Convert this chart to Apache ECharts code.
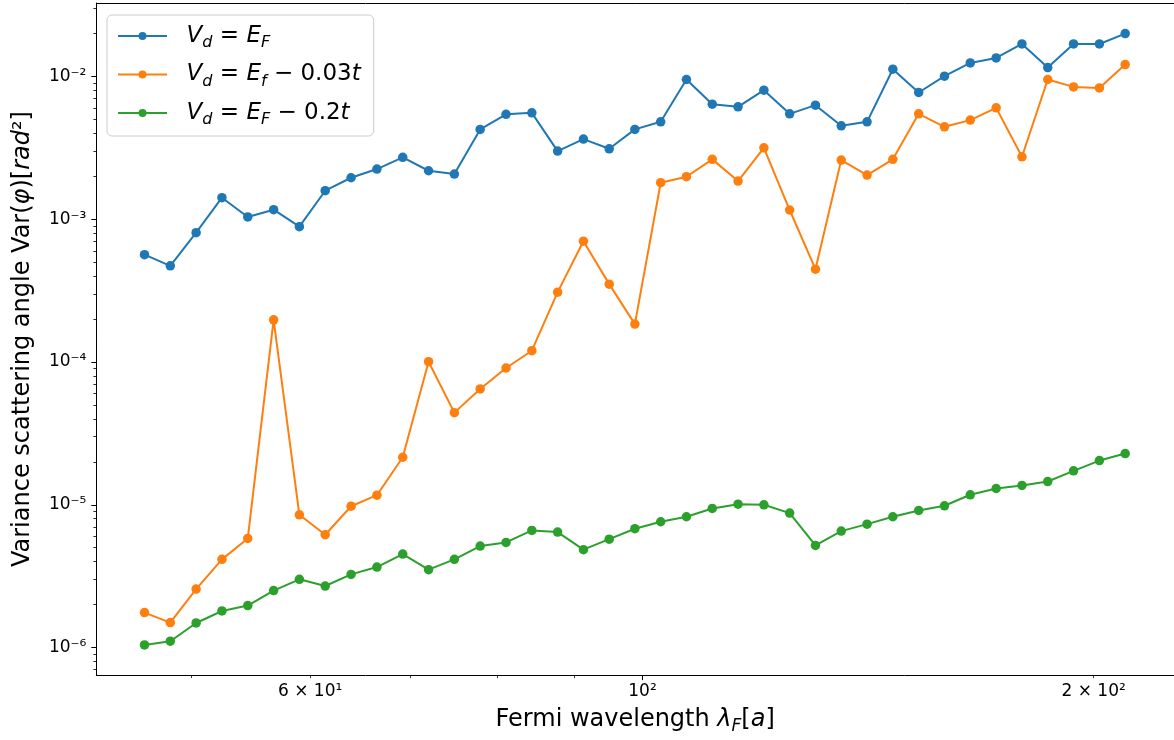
<!DOCTYPE html>
<html>
<head>
<meta charset="utf-8">
<script src="https://cdn.jsdelivr.net/npm/echarts@6/dist/echarts.min.js"></script>
<style>
    html, body { margin: 0; padding: 0; background: #fff; }
    #chart { width: 1174px; height: 740px; }
</style>
</head>
<body>
<div id="chart"></div>
<script>
// Fermi wavelength (x) and variance values
const wavelength = [46.52, 48.40, 50.36, 52.40, 54.52, 56.73, 59.02, 61.41, 63.90, 66.49,
    69.18, 71.98, 74.89, 77.92, 81.08, 84.36, 87.77, 91.32, 95.01, 98.83,
    102.83, 106.98, 111.31, 115.81, 120.50, 125.37, 130.44, 135.71, 141.20, 146.91,
    152.86, 159.04, 165.47, 172.19, 179.15, 186.39, 193.93, 201.79, 209.95];

const varEF = [5.65e-4, 4.72e-4, 8.06e-4, 1.416e-3, 1.038e-3, 1.167e-3, 8.88e-4, 1.585e-3, 1.953e-3, 2.247e-3,
    2.714e-3, 2.187e-3, 2.074e-3, 4.26e-3, 5.43e-3, 5.565e-3, 3.003e-3, 3.643e-3, 3.116e-3, 4.26e-3,
    4.815e-3, 9.53e-3, 6.40e-3, 6.13e-3, 8.02e-3, 5.476e-3, 6.30e-3, 4.514e-3, 4.815e-3, 1.125e-2,
    7.73e-3, 1.005e-2, 1.245e-2, 1.349e-2, 1.690e-2, 1.156e-2, 1.690e-2, 1.690e-2, 1.999e-2];

const varEf003 = [1.757e-6, 1.495e-6, 2.569e-6, 4.145e-6, 5.81e-6, 1.976e-4, 8.51e-6, 6.17e-6, 9.77e-6, 1.167e-5,
    2.152e-5, 1.005e-4, 4.42e-5, 6.48e-5, 9.08e-5, 1.2e-4, 3.087e-4, 7.02e-4, 3.512e-4, 1.843e-4,
    1.803e-3, 1.986e-3, 2.628e-3, 1.853e-3, 3.167e-3, 1.161e-3, 4.47e-4, 2.598e-3, 2.04e-3, 2.628e-3,
    5.476e-3, 4.443e-3, 4.949e-3, 6.03e-3, 2.740e-3, 9.53e-3, 8.46e-3, 8.32e-3, 1.213e-2];

const varEF02 = [1.043e-6, 1.107e-6, 1.486e-6, 1.803e-6, 1.967e-6, 2.504e-6, 3.004e-6, 2.697e-6, 3.254e-6, 3.661e-6,
    4.513e-6, 3.511e-6, 4.145e-6, 5.135e-6, 5.45e-6, 6.61e-6, 6.435e-6, 4.845e-6, 5.746e-6, 6.795e-6,
    7.605e-6, 8.245e-6, 9.42e-6, 1.01e-5, 1.0e-5, 8.74e-6, 5.193e-6, 6.54e-6, 7.317e-6, 8.245e-6,
    9.12e-6, 9.84e-6, 1.175e-5, 1.3e-5, 1.365e-5, 1.455e-5, 1.729e-5, 2.04e-5, 2.284e-5];

const seriesNames = ['V_d = E_F', 'V_d = E_f - 0.03t', 'V_d = E_F - 0.2t'];
const legendText = [
    '  {i|V}{s|d}{n| = }{i|E}{s|F}',
    '  {i|V}{s|d}{n| = }{i|E}{s|f}{n| − 0.03}{i|t}',
    '  {i|V}{s|d}{n| = }{i|E}{s|F}{n| − 0.2}{i|t}'
];

// axis limits and ticks (data units)
const xRange = [43.2, 226.3];
const yRange = [6.41e-7, 0.03273];
const xLabelTicks = [60, 100, 200];
const xMajorTicks = [100];
const xMinorTicks = [50, 60, 70, 80, 90, 200];
const yMajorTicks = [1e-6, 1e-5, 1e-4, 1e-3, 1e-2];
const yMinorTicks = [7e-7, 8e-7, 9e-7,
    2e-6, 3e-6, 4e-6, 5e-6, 6e-6, 7e-6, 8e-6, 9e-6,
    2e-5, 3e-5, 4e-5, 5e-5, 6e-5, 7e-5, 8e-5, 9e-5,
    2e-4, 3e-4, 4e-4, 5e-4, 6e-4, 7e-4, 8e-4, 9e-4,
    2e-3, 3e-3, 4e-3, 5e-3, 6e-3, 7e-3, 8e-3, 9e-3,
    2e-2, 3e-2];

const colors = ['#1f77b4', '#ff7f0e', '#2ca02c'];
const FONT = 'DejaVu Sans';
const lg = v => Math.log10(v);

function sup(n) {
    return String(n).replace(/[-0-9]/g, c => '⁻⁰¹²³⁴⁵⁶⁷⁸⁹'['-0123456789'.indexOf(c)]);
}

function xTickLabel(v) {
    let e = Math.floor(v + 1e-9);
    let m = Math.round(Math.pow(10, v - e));
    return (m === 1 ? '' : m + ' × ') + '10' + sup(e);
}

function mathRich(size, subSize, lineHeight) {
    return {
        n: { fontFamily: FONT, fontSize: size, color: '#000', lineHeight: lineHeight },
        i: { fontFamily: FONT, fontSize: size, color: '#000', fontStyle: 'italic', lineHeight: lineHeight },
        s: { fontFamily: FONT, fontSize: subSize, color: '#000', fontStyle: 'italic', verticalAlign: 'bottom', lineHeight: subSize + 2 }
    };
}

// the log axes carry the data; value axes in log10 units only draw spines, ticks and labels
let hiddenAxis = {
    axisLine: { show: false },
    axisTick: { show: false },
    axisLabel: { show: false },
    splitLine: { show: false }
};
let spine = { show: true, onZero: false, lineStyle: { color: '#000', width: 1 } };

let option = {
    animation: false,
    backgroundColor: '#fff',
    grid: {
        left: 96,
        right: -5,
        top: 3,
        bottom: 64,
        containLabel: false
    },
    legend: {
        orient: 'vertical',
        left: 107,
        top: 15,
        padding: [6, 13, 8, 10],
        itemGap: 8.5,
        itemWidth: 49,
        itemHeight: 10,
        backgroundColor: 'rgba(255,255,255,0.8)',
        borderColor: '#cccccc',
        borderWidth: 1,
        borderRadius: 5,
        data: seriesNames,
        formatter: name => legendText[seriesNames.indexOf(name)],
        textStyle: {
            fontFamily: FONT,
            fontSize: 23,
            lineHeight: 30,
            color: '#000',
            rich: mathRich(23, 16, 30)
        }
    },
    xAxis: [
        Object.assign({ type: 'log', logBase: 10, min: xRange[0], max: xRange[1], position: 'bottom' }, hiddenAxis),
        {
            type: 'value',
            position: 'bottom',
            min: lg(xRange[0]),
            max: lg(xRange[1]),
            axisLine: spine,
            splitLine: { show: false },
            axisTick: {
                show: true, inside: false, length: 5,
                lineStyle: { color: '#000', width: 1 },
                customValues: xMajorTicks.map(lg)
            },
            axisLabel: {
                show: true, margin: 8,
                fontFamily: FONT, fontSize: 17, color: '#000',
                customValues: xLabelTicks.map(lg),
                formatter: xTickLabel
            },
            name: 'Fermi wavelength {i|λ}{s|F}{n|[}{i|a}{n|]}',
            nameLocation: 'middle',
            nameGap: 28,
            nameTextStyle: {
                fontFamily: FONT, fontSize: 24, lineHeight: 30, color: '#000',
                rich: mathRich(24, 17, 30)
            }
        },
        {
            type: 'value',
            position: 'bottom',
            min: lg(xRange[0]),
            max: lg(xRange[1]),
            axisLine: { show: false, onZero: false },
            splitLine: { show: false },
            axisLabel: { show: false },
            axisTick: {
                show: true, inside: false, length: 3,
                lineStyle: { color: '#000', width: 0.8 },
                customValues: xMinorTicks.map(lg)
            }
        },
        Object.assign({ type: 'value', position: 'top', min: lg(xRange[0]), max: lg(xRange[1]) }, hiddenAxis, { axisLine: spine })
    ],
    yAxis: [
        Object.assign({ type: 'log', logBase: 10, min: yRange[0], max: yRange[1], position: 'left' }, hiddenAxis),
        {
            type: 'value',
            position: 'left',
            min: lg(yRange[0]),
            max: lg(yRange[1]),
            axisLine: spine,
            splitLine: { show: false },
            axisTick: {
                show: true, inside: false, length: 5,
                lineStyle: { color: '#000', width: 1 },
                customValues: yMajorTicks.map(lg)
            },
            axisLabel: {
                show: true, margin: 10,
                fontFamily: FONT, fontSize: 17, color: '#000',
                customValues: yMajorTicks.map(lg),
                formatter: v => '10' + sup(Math.round(v))
            },
            name: 'Variance scattering angle Var({i|φ}{n|)[}{i|rad}{n|²]}',
            nameLocation: 'middle',
            nameGap: 52,
            nameTextStyle: {
                fontFamily: FONT, fontSize: 24, lineHeight: 30, color: '#000',
                rich: mathRich(24, 17, 30)
            }
        },
        {
            type: 'value',
            position: 'left',
            min: lg(yRange[0]),
            max: lg(yRange[1]),
            axisLine: { show: false, onZero: false },
            splitLine: { show: false },
            axisLabel: { show: false },
            axisTick: {
                show: true, inside: false, length: 3,
                lineStyle: { color: '#000', width: 0.8 },
                customValues: yMinorTicks.map(lg)
            }
        }
    ],
    series: [varEF, varEf003, varEF02].map((vals, k) => ({
        name: seriesNames[k],
        type: 'line',
        xAxisIndex: 0,
        yAxisIndex: 0,
        symbol: 'circle',
        symbolSize: 9.5,
        color: colors[k],
        lineStyle: { width: 2, color: colors[k] },
        itemStyle: { color: colors[k] },
        emphasis: { disabled: true },
        data: wavelength.map((x, i) => [x, vals[i]])
    }))
};

var myChart = echarts.init(document.getElementById('chart'), null, { renderer: 'canvas' });
myChart.setOption(option, true);
</script>
</body>
</html>
